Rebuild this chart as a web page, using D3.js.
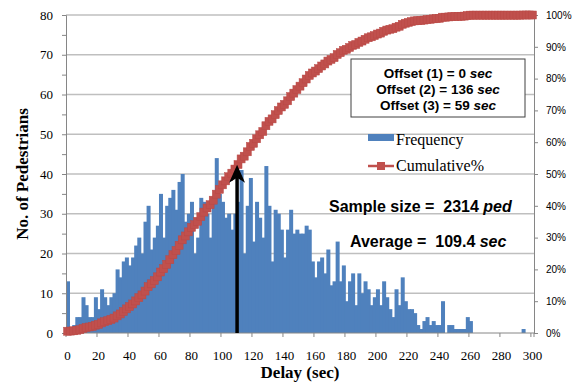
<!DOCTYPE html>
<html>
<head>
<meta charset="utf-8">
<script src="https://cdn.jsdelivr.net/npm/d3@7"></script>
<style>
    body { margin: 0; background: #fff; }
    svg { display: block; }
</style>
</head>
<body>
<div class="chart"></div>
<script>
// Data: 2-second delay bins, 0..300 sec
const delayBins = d3.range(0, 301, 2);
const frequency = [
    13, 1, 2, 4, 4, 9, 7, 4, 4, 9, 6, 11, 9, 7, 9, 10, 16, 14, 18, 19,
    17, 19, 22, 24, 20, 28, 32, 21, 24, 27, 35, 24, 32, 34, 36, 31, 38, 40,
    28, 30, 33, 20, 24, 34, 33, 30, 24, 33, 44, 35, 33, 29, 30, 26, 30, 33,
    41, 20, 32, 39, 23, 33, 29, 24, 42, 32, 18, 31, 30, 26, 19, 26, 31, 25, 26,
    25, 25, 27, 26, 18, 14, 18, 19, 15, 21, 12, 13, 23, 13, 17, 8, 13, 15, 7,
    15, 10, 13, 11, 7, 9, 11, 7, 13, 9, 6, 4, 11, 7, 14, 8, 6, 6, 5, 2,
    1, 3, 4, 2, 3, 2, 2, 8, 0, 2, 2, 1, 1, 1, 1, 4, 3,
    0, 0, 0, 0, 0, 0, 0, 0, 0, 0, 0, 0, 0, 0, 0, 0,
    1, 0, 0, 0
];
const xTickLabels = d3.range(0, 301, 20);
const yTicks = d3.range(0, 81, 10);
const pctTicks = d3.range(0, 1.01, 0.1);
const offsetLines = [["Offset (1) = 0 ", "sec"], ["Offset (2) = 136 ", "sec"], ["Offset (3) = 59 ", "sec"]];
const sampleSize = 2314;
const averageDelay = 109.4;
const arrowTop = 42.3; // left-axis units

const W = 577, H = 385;
const plot = {left: 66, right: 534, top: 15, bottom: 333};
const BLUE = '#4F81BD', RED = '#C0504D';
const SERIF = '"Liberation Serif", "Times New Roman", serif';
const SANS = '"Liberation Sans", Arial, sans-serif';

const svg = d3.select('.chart').append('svg')
    .attr('width', W)
    .attr('height', H);

const total = d3.sum(frequency);
const cumulative = Array.from(d3.cumsum(frequency), v => v / total);

// Scales
const x = d3.scaleBand()
    .domain(delayBins)
    .range([plot.left, plot.right])
    .padding(0);
const y = d3.scaleLinear().domain([0, 80]).range([plot.bottom, plot.top]);
const yPct = d3.scaleLinear().domain([0, 1]).range([plot.bottom, plot.top]);
const xDelay = d3.scaleLinear()
    .domain([0, 300])
    .range([x(0) + x.bandwidth() / 2, x(300) + x.bandwidth() / 2]);

// Gridlines
svg.append('g')
    .selectAll('line')
    .data(yTicks.filter(d => d > 0))
    .join('line')
    .attr('x1', plot.left).attr('x2', plot.right)
    .attr('y1', d => y(d)).attr('y2', d => y(d))
    .attr('stroke', '#BFBFBF')
    .attr('stroke-width', 1.3);

// Bars
svg.append('g')
    .selectAll('rect')
    .data(delayBins.map((d, i) => ({x: d, y: frequency[i]})).filter(d => d.y > 0))
    .join('rect')
    .attr('x', d => x(d.x))
    .attr('y', d => y(d.y))
    .attr('width', x.bandwidth() + 0.9)
    .attr('height', d => y(0) - y(d.y))
    .attr('fill', BLUE);

// Axes
const axisColor = '#868686';
const leftAxis = svg.append('g')
    .attr('transform', `translate(${plot.left},0)`)
    .call(d3.axisLeft(y).tickValues(d3.range(0, 81, 5)).tickSize(4).tickFormat(d => d % 10 === 0 ? d : ''));
leftAxis.select('.domain').attr('stroke', axisColor);
leftAxis.selectAll('.tick line').attr('stroke', axisColor);
leftAxis.selectAll('.tick text')
    .attr('x', -13)
    .style('font-family', SERIF)
    .style('font-size', '13px')
    .attr('fill', '#000');

const rightAxis = svg.append('g')
    .attr('transform', `translate(${plot.right},0)`)
    .call(d3.axisRight(yPct).tickValues(pctTicks).tickSize(4).tickFormat(d3.format('.0%')));
rightAxis.select('.domain').attr('stroke', axisColor);
rightAxis.selectAll('.tick line').attr('stroke', axisColor);
rightAxis.selectAll('.tick text')
    .attr('x', 12)
    .style('font-family', SANS)
    .style('font-size', '10px')
    .attr('fill', '#000');

const bottom = svg.append('g').attr('transform', `translate(0,${plot.bottom})`);
bottom.append('line')
    .attr('x1', plot.left).attr('x2', plot.right)
    .attr('stroke', axisColor);
bottom.selectAll('.tickmark')
    .data(delayBins.filter((d, i) => i % 10 === 0))
    .join('line')
    .attr('class', 'tickmark')
    .attr('x1', d => x(d)).attr('x2', d => x(d))
    .attr('y1', 0).attr('y2', 4)
    .attr('stroke', axisColor);
bottom.append('line')
    .attr('x1', plot.right).attr('x2', plot.right)
    .attr('y1', 0).attr('y2', 4)
    .attr('stroke', axisColor);
bottom.selectAll('.ticklabel')
    .data(xTickLabels)
    .join('text')
    .attr('class', 'ticklabel')
    .attr('x', d => x(d) + x.bandwidth() / 2)
    .attr('y', 27)
    .attr('text-anchor', 'middle')
    .style('font-family', SERIF)
    .style('font-size', '13px')
    .text(d => d);

// Axis titles
svg.append('text')
    .attr('transform', `translate(28,${(plot.top + plot.bottom) / 2}) rotate(-90)`)
    .attr('text-anchor', 'middle')
    .style('font-family', SERIF)
    .style('font-size', '17px')
    .style('font-weight', 'bold')
    .text('No. of Pedestrians');

svg.append('text')
    .attr('x', (plot.left + plot.right) / 2)
    .attr('y', 378)
    .attr('text-anchor', 'middle')
    .style('font-family', SERIF)
    .style('font-size', '17px')
    .style('font-weight', 'bold')
    .text('Delay (sec)');

// Cumulative line
const line = d3.line()
    .x((d, i) => x(delayBins[i]) + x.bandwidth() / 2)
    .y(d => yPct(d));
svg.append('path')
    .datum(cumulative)
    .attr('d', line)
    .attr('fill', 'none')
    .attr('stroke', RED)
    .attr('stroke-width', 3);
svg.append('g')
    .selectAll('rect')
    .data(cumulative)
    .join('rect')
    .attr('x', (d, i) => x(delayBins[i]) + x.bandwidth() / 2 - 4)
    .attr('y', d => yPct(d) - 4)
    .attr('width', 8)
    .attr('height', 8)
    .attr('fill', RED)
    .attr('stroke', '#B94845')
    .attr('stroke-width', 0.5);

// Average arrow
const ax = xDelay(averageDelay);
svg.append('line')
    .attr('x1', ax).attr('x2', ax)
    .attr('y1', y(0)).attr('y2', y(arrowTop) + 6)
    .attr('stroke', '#000')
    .attr('stroke-width', 3.5);
svg.append('path')
    .attr('d', `M${ax},${y(arrowTop)} L${ax - 8},${y(arrowTop) + 18} L${ax},${y(arrowTop) + 13} L${ax + 8},${y(arrowTop) + 18} Z`)
    .attr('fill', '#000');

// Offsets box
const box = svg.append('g');
box.append('rect')
    .attr('x', 351).attr('y', 59)
    .attr('width', 174).attr('height', 58)
    .attr('fill', '#fff')
    .attr('stroke', '#404040')
    .attr('stroke-width', 1);
offsetLines.forEach((t, i) => {
    const txt = box.append('text')
        .attr('x', 438)
        .attr('y', 78 + i * 16)
        .attr('text-anchor', 'middle')
        .style('font-family', SANS)
        .style('font-size', '13.5px')
        .style('font-weight', 'bold');
    txt.append('tspan').text(t[0]);
    txt.append('tspan').style('font-style', 'italic').text(t[1]);
});

// Legend
const legend = svg.append('g');
legend.append('rect')
    .attr('x', 368).attr('y', 134)
    .attr('width', 26).attr('height', 7)
    .attr('fill', BLUE);
legend.append('text')
    .attr('x', 396).attr('y', 145)
    .style('font-family', SERIF)
    .style('font-size', '16px')
    .text('Frequency');
legend.append('line')
    .attr('x1', 368).attr('x2', 394)
    .attr('y1', 166).attr('y2', 166)
    .attr('stroke', RED)
    .attr('stroke-width', 2.5);
legend.append('rect')
    .attr('x', 377).attr('y', 162)
    .attr('width', 8).attr('height', 8)
    .attr('fill', RED);
legend.append('text')
    .attr('x', 396).attr('y', 171)
    .style('font-family', SERIF)
    .style('font-size', '16px')
    .text('Cumulative%');

// Annotations
const sample = svg.append('text')
    .attr('x', 329).attr('y', 212)
    .style('white-space', 'pre')
    .style('font-family', SANS)
    .style('font-size', '16px')
    .style('font-weight', 'bold');
sample.append('tspan').text(`Sample size =  ${sampleSize} `);
sample.append('tspan').style('font-style', 'italic').text('ped');

const avg = svg.append('text')
    .attr('x', 350).attr('y', 247)
    .style('white-space', 'pre')
    .style('font-family', SANS)
    .style('font-size', '16px')
    .style('font-weight', 'bold');
avg.append('tspan').text(`Average =  ${averageDelay} `);
avg.append('tspan').style('font-style', 'italic').text('sec');
</script>
</body>
</html>
